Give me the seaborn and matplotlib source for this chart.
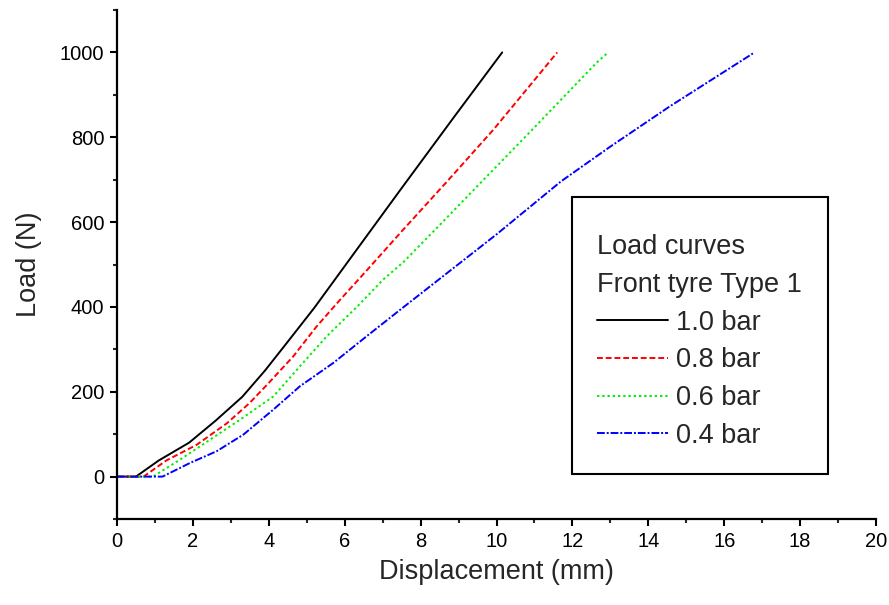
import matplotlib
matplotlib.use("Agg")
import matplotlib.pyplot as plt
import seaborn as sns
import pandas as pd
from matplotlib.ticker import MultipleLocator
from matplotlib.offsetbox import DrawingArea

# Data
x_10 = [0, 0.5, 1.1, 1.9, 2.6, 3.3, 3.9, 4.5, 5.2, 6.3, 7.5, 8.9, 10.15]
y_10 = [0, 0, 38, 80, 132, 188, 250, 318, 398, 533, 680, 850, 1000]

x_08 = [0, 0.7, 1.3, 2.1, 2.9, 3.5, 4.0, 4.65, 5.26, 5.85, 6.6, 7.54, 8.7, 9.92, 11.6]
y_08 = [0, 0, 38, 75, 126, 174, 221, 284, 354, 414, 488, 582, 696, 818, 1000]

x_06 = [0, 0.95, 1.66, 2.45, 3.24, 4.12, 4.82, 5.53, 6.32, 7.02, 7.54, 8.6, 9.65, 10.9, 12.64, 12.94]
y_06 = [0, 0, 40, 87, 134, 189, 260, 331, 400, 465, 505, 602, 699, 814, 976, 1000]

x_04 = [0, 1.2, 1.92, 2.63, 3.33, 4.12, 4.82, 5.7, 6.58, 7.5, 8.5, 10.0, 11.7, 13.0, 14.57, 16.8]
y_04 = [0, 0, 32, 60, 99, 158, 213, 268, 331, 396, 466, 571, 696, 778, 873, 1000]

labels = ["1.0 bar", "0.8 bar", "0.6 bar", "0.4 bar"]
legend_title = "Load curves\nFront tyre Type 1"
x_label = "Displacement (mm)"
y_label = "Load (N)"
x_ticks = [0, 2, 4, 6, 8, 10, 12, 14, 16, 18, 20]
y_ticks = [0, 200, 400, 600, 800, 1000]

series = [(x_10, y_10), (x_08, y_08), (x_06, y_06), (x_04, y_04)]
colors = ["#000000", "#ff0000", "#00ee00", "#0000ff"]
styles = ["-", (0, (3, 1.5)), (0, (1.2, 1.5)), (0, (4, 1, 1, 1))]

sns.set_style("ticks")
plt.rcParams["font.family"] = ["Liberation Sans", "DejaVu Sans"]

fig = plt.figure(figsize=(8.89, 6.05), dpi=100)
ax = fig.add_axes([0.1316, 0.1421, 0.8538, 0.8414])

for (xs, ys), lab, c, ls in zip(series, labels, colors, styles):
    df = pd.DataFrame({"x": xs, "y": ys})
    sns.lineplot(data=df, x="x", y="y", ax=ax, color=c, linestyle=ls,
                 linewidth=1.4, label=lab, sort=False, estimator=None)

ax.set_xlim(0, 20)
ax.set_ylim(-100, 1100)
ax.set_xticks(x_ticks)
ax.set_yticks(y_ticks)
ax.xaxis.set_minor_locator(MultipleLocator(1))
ax.yaxis.set_minor_locator(MultipleLocator(100))
ax.tick_params(axis="both", which="major", direction="out", length=5, width=1.5,
               labelsize=14.5, colors="black", pad=4)
ax.tick_params(axis="both", which="minor", direction="out", length=3, width=1.5)
for s in ["top", "right"]:
    ax.spines[s].set_visible(False)
for s in ["left", "bottom"]:
    ax.spines[s].set_linewidth(1.6)
    ax.spines[s].set_color("black")

ax.set_xlabel(x_label, fontsize=19.5, labelpad=6)
ax.set_ylabel(y_label, fontsize=19.5, labelpad=13)

leg = ax.legend(title=legend_title, loc="upper left", bbox_to_anchor=(0.5995, 0.6326),
                borderaxespad=0,
                fontsize=19.5, title_fontsize=19.5, frameon=True, fancybox=False,
                borderpad=0.94, labelspacing=0.43, handlelength=2.6, handletextpad=0.3,
                alignment="left", edgecolor="black", framealpha=1)
leg.get_frame().set_linewidth(1.5)
leg.get_title().set_linespacing(1.6)
# small spacer above the title so the text sits lower inside the frame
try:
    spacer = DrawingArea(0, 0)
    spacer.set_figure(fig)
    leg._legend_box._children.insert(0, spacer)
except Exception:
    pass

fig.savefig("out.png", dpi=100)
